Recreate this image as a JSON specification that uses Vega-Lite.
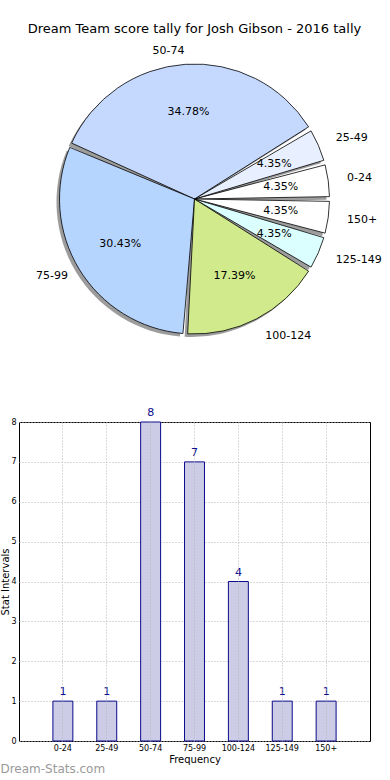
{
  "$schema": "https://vega.github.io/schema/vega-lite/v6.json",
  "padding": {"left": 0, "right": 0, "top": 23, "bottom": 0},
  "spacing": 57,
  "config": {
    "font": "DejaVu Sans",
    "title": {"font": "DejaVu Sans", "fontWeight": "normal"},
    "axis": {"labelFont": "DejaVu Sans", "titleFont": "DejaVu Sans", "titleFontWeight": "normal"}
  },
  "title": {"text": "Dream-Stats.com", "orient": "bottom", "anchor": "start", "fontSize": 12, "fontWeight": "normal", "color": "#9a9a9a", "offset": -1},
  "datasets": {
    "tally": [
      {"cat": "0-24", "n": 1, "k": 1, "pct": "4.35%"},
      {"cat": "25-49", "n": 1, "k": 2, "pct": "4.35%"},
      {"cat": "50-74", "n": 8, "k": 3, "pct": "34.78%"},
      {"cat": "75-99", "n": 7, "k": 4, "pct": "30.43%"},
      {"cat": "100-124", "n": 4, "k": 5, "pct": "17.39%"},
      {"cat": "125-149", "n": 1, "k": 6, "pct": "4.35%"},
      {"cat": "150+", "n": 1, "k": 7, "pct": "4.35%"}
    ]
  },
  "vconcat": [
    {
      "width": 351,
      "height": 300,
      "view": {"stroke": null},
      "title": {"text": "Dream Team score tally for Josh Gibson - 2016 tally", "fontSize": 13, "fontWeight": "normal", "color": "#000", "offset": 3},
      "data": {"name": "tally"},
      "encoding": {
        "theta": {"field": "n", "type": "quantitative", "stack": true, "scale": {"range": [1.5708, 7.854]}},
        "order": {"field": "k", "type": "quantitative", "sort": "descending"},
        "detail": {"field": "cat", "type": "nominal"}
      },
      "layer": [
        {"mark": {"type": "arc", "outerRadius": 135, "padAngle": 0.035, "xOffset": -3, "yOffset": 3, "fill": "#3a3a3a", "opacity": 0.5}},
        {
          "mark": {"type": "arc", "outerRadius": 135, "padAngle": 0.035, "stroke": "#000", "strokeWidth": 0.8},
          "encoding": {
            "color": {"field": "cat", "type": "nominal", "legend": null,
              "scale": {"domain": ["0-24", "25-49", "50-74", "75-99", "100-124", "125-149", "150+"],
                        "range": ["#ffffff", "#e8f0ff", "#c5d9ff", "#b5d5ff", "#d0ea8c", "#dbffff", "#ffffff"]}}
          }
        },
        {
          "mark": {"type": "text", "radius": 87, "align": "center", "baseline": "middle", "fontSize": 11, "color": "#000"},
          "encoding": {"text": {"field": "pct", "type": "nominal"}}
        },
        {
          "mark": {"type": "text", "radius": 148, "align": "right", "baseline": "middle", "fontSize": 11, "color": "#000"},
          "encoding": {"text": {"condition": {"test": "datum.cat === '50-74' || datum.cat === '75-99'", "field": "cat"}, "value": ""}}
        },
        {
          "mark": {"type": "text", "radius": 154, "align": "left", "baseline": "middle", "fontSize": 11, "color": "#000"},
          "encoding": {"text": {"condition": {"test": "datum.cat !== '50-74' && datum.cat !== '75-99'", "field": "cat"}, "value": ""}}
        }
      ]
    },
    {
      "width": 351,
      "height": 319,
      "view": {"stroke": "#000", "strokeWidth": 1},
      "data": {"name": "tally"},
      "encoding": {
        "x": {"field": "cat", "type": "ordinal",
          "sort": ["0-24", "25-49", "50-74", "75-99", "100-124", "125-149", "150+"],
          "scale": {"paddingInner": 0.545, "paddingOuter": 0.7725},
          "axis": {"title": "Frequency", "titleFontSize": 10, "titlePadding": 2, "labelFontSize": 8, "labelAngle": 0, "labelPadding": 3, "ticks": false, "domain": false,
                   "grid": true, "bandPosition": 0.5, "gridColor": "#b5b5b5", "gridDash": [1, 2], "gridWidth": 1, "zindex": 1, "labelColor": "#000", "titleColor": "#000"}},
        "y": {"field": "n", "type": "quantitative", "scale": {"domain": [0, 8], "nice": false},
          "axis": {"title": "Stat Intervals", "titleFontSize": 10, "titlePadding": 0, "labelFontSize": 8, "labelPadding": 3, "ticks": false, "domain": false, "tickCount": 8,
                   "grid": true, "gridColor": "#b5b5b5", "gridDash": [1, 2], "gridWidth": 1, "labelColor": "#000", "titleColor": "#000"}}
      },
      "layer": [
        {"mark": {"type": "bar", "fill": "#ccccE6", "stroke": "#0a0a8c", "strokeWidth": 1}},
        {"mark": {"type": "text", "dy": -9, "fontSize": 11, "color": "#0a0a8c", "baseline": "middle"}, "encoding": {"text": {"field": "n", "type": "quantitative"}}}
      ]
    }
  ]
}
